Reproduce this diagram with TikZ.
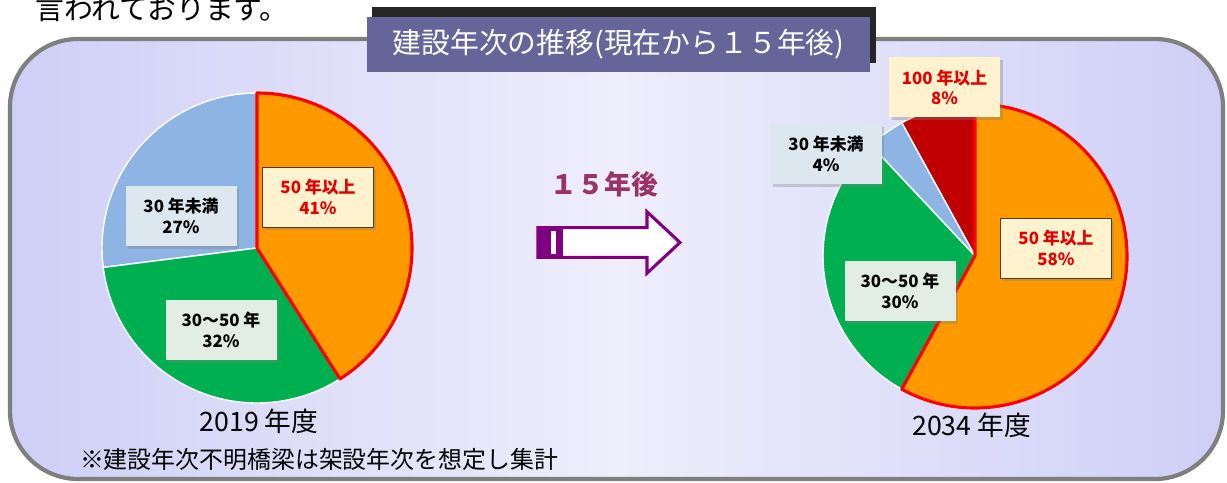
\documentclass[tikz,border=0pt]{standalone}
\usepackage{fontspec}
\setmainfont{Noto Sans CJK JP}
\usetikzlibrary{shadows}

\definecolor{framegray}{HTML}{7F7F7F}
\definecolor{bgedge}{HTML}{CFCFF7}
\definecolor{bgmid}{HTML}{EEEEFC}
\definecolor{titlepurple}{HTML}{65659A}
\definecolor{pieorange}{HTML}{FF9900}
\definecolor{piegreen}{HTML}{00B050}
\definecolor{pieblue}{HTML}{8DB4E2}
\definecolor{piered}{HTML}{C00000}
\definecolor{arrowpurple}{HTML}{800080}
\definecolor{afterpurple}{HTML}{993366}
\definecolor{creambox}{HTML}{FFF3CF}
\definecolor{bluebox}{HTML}{DCE7EF}
\definecolor{greenbox}{HTML}{E2EEE3}

\begin{document}
\begin{tikzpicture}[
    slice/.style={draw=white, line width=1pt, line join=round},
    oldslice/.style={fill=pieorange, draw=red, line width=2.2pt, line join=round},
    databox/.style={rectangle, minimum width=2.775cm, minimum height=1.5cm, align=center, inner sep=2pt, font={\fontsize{12}{14.5}\selectfont\bfseries}, drop shadow={shadow xshift=2pt, shadow yshift=-2pt, opacity=0.35}},
    oldbox/.style={databox, fill=creambox, text=red!90!black, draw=black!55!brown, thin},
    topbox/.style={databox, fill=creambox, text=red!90!black},
    youngbox/.style={databox, fill=bluebox},
    midbox/.style={databox, fill=greenbox},
    title/.style={rectangle, fill=titlepurple, text=white, minimum width=12.575cm, minimum height=1.375cm, font={\fontsize{20.5}{24}\selectfont}},
    yearlabel/.style={font={\fontsize{19}{22}\selectfont}},
    note/.style={font={\fontsize{17}{20}\selectfont}}
]
\useasboundingbox (0,0) rectangle (30.675,12.075);

% Intro line (cut at the top)
\node[font={\fontsize{20.5}{22}\selectfont}] (intro) at (4.05,11.84) {言われております。};

% Frame
\shade[left color=bgedge, right color=bgedge, middle color=bgmid, rounded corners=1.7cm] (0.25,0.1) rectangle (30.575,11.1);
\draw[framegray, line width=3pt, rounded corners=1.7cm] (0.25,0.1) rectangle (30.575,11.1);

% Title
\fill[black!85] (9.3,10.5) rectangle (21.9,11.9);
\node[title] (title) at (15.4625,10.9625) {建設年次の推移(現在から１５年後)};

% 2019 pie
\coordinate (pie19) at (6.425,5.875);
\fill[pieblue, slice] (pie19) -- ++(90:3.875) arc (90:187.2:3.875) -- cycle;
\fill[piegreen, slice] (pie19) -- ++(187.2:3.875) arc (187.2:302.4:3.875) -- cycle;
\filldraw[oldslice] (pie19) -- ++(-57.6:3.875) arc (-57.6:90:3.875) -- cycle;

\node[oldbox] (old19) at (7.95,7.15) {50 年以上\\41\%};
\node[youngbox] (young19) at (4.525,6.675) {30 年未満\\27\%};
\node[midbox] (mid19) at (5.525,3.825) {30～50 年\\32\%};
\node[yearlabel] (year19) at (6.475,1.55) {2019 年度};
\node[note] (note) at (7.975,0.6) {※建設年次不明橋梁は架設年次を想定し集計};

% Arrow
\node[font={\fontsize{19}{22}\selectfont\bfseries}, text=afterpurple] (after) at (15.11,7.475) {１５年後};
\filldraw[fill=white, draw=arrowpurple, line width=2.2pt, line join=miter] (13.45,6.385) -- (16.175,6.385) -- (16.175,6.78) -- (17.0,6.0125) -- (16.175,5.245) -- (16.175,5.64) -- (13.45,5.64) -- cycle;
\fill[arrowpurple] (13.425,5.6) rectangle (14.075,6.425);
\fill[white] (13.775,5.725) rectangle (13.9,6.3);

% 2034 pie
\coordinate (pie34) at (24.375,5.675);
\fill[piered, slice] (pie34) -- ++(90:3.8) arc (90:118.8:3.8) -- cycle;
\fill[pieblue, slice] (pie34) -- ++(118.8:3.8) arc (118.8:133.2:3.8) -- cycle;
\fill[piegreen, slice] (pie34) -- ++(133.2:3.8) arc (133.2:241.2:3.8) -- cycle;
\filldraw[oldslice] (pie34) -- ++(-118.8:3.8) arc (-118.8:90:3.8) -- cycle;

\node[topbox] (top34) at (23.6125,9.8875) {100 年以上\\8\%};
\node[youngbox] (young34) at (20.65,8.225) {30 年未満\\4\%};
\node[midbox] (mid34) at (22.5,4.8) {30～50 年\\30\%};
\node[oldbox] (old34) at (26.4,5.875) {50 年以上\\58\%};
\node[yearlabel] (year34) at (24.29,1.45) {2034 年度};

\end{tikzpicture}
\end{document}
